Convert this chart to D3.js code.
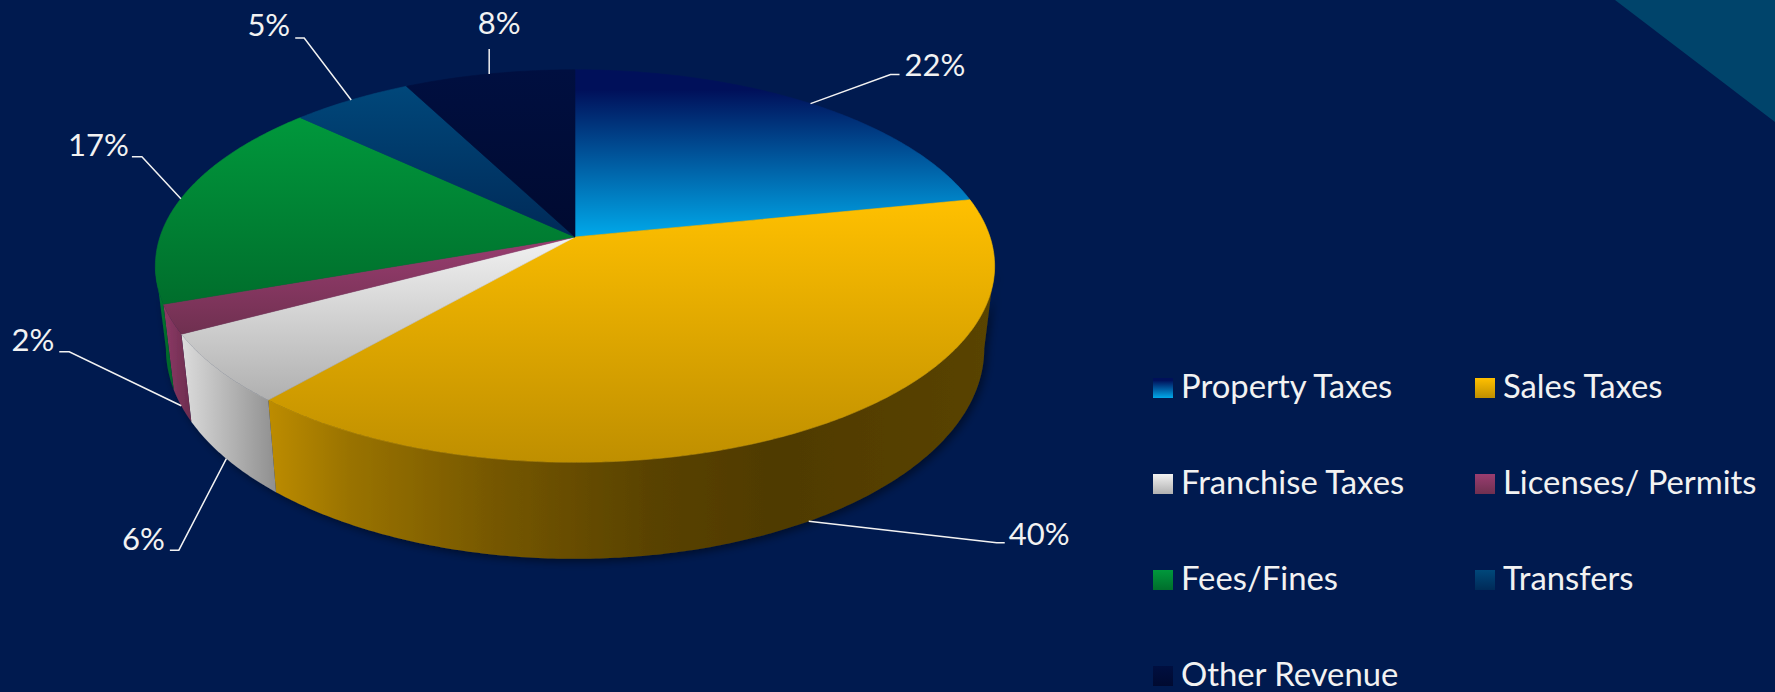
<!DOCTYPE html>
<html>
<head>
<meta charset="utf-8">
<script src="https://cdn.jsdelivr.net/npm/d3@7"></script>
<style>
  html, body { margin: 0; padding: 0; background: #001a4f; overflow: hidden; }
  svg { display: block; }
  text { font-family: Lato, "Open Sans", sans-serif; fill: #f2f2f2; }
</style>
</head>
<body>
<div id="chart"></div>
<script>
// ---------------------------------------------------------
// 1. DATA
// ---------------------------------------------------------
const categories = ["Property Taxes", "Sales Taxes", "Franchise Taxes", "Licenses/ Permits", "Fees/Fines", "Transfers", "Other Revenue"];
const shares = [21.8, 39.6, 5.8, 2.4, 17.4, 5.4, 7.6];
const shareLabels = ["22%", "40%", "6%", "2%", "17%", "5%", "8%"];

// ---------------------------------------------------------
// 2. CONFIGURATION
// ---------------------------------------------------------
const width = 1775;
const height = 692;

// gradient stops per slice, [color, offset]: top faces run top to bottom, walls left to right
const faceColors = [
    [["#00105a", 0.12], ["#00a9ea", 1]],
    [["#ffc000", 0], ["#bf8f00", 1]],
    [["#f2f2f2", 0], ["#b0b0b0", 1]],
    [["#9a3d70", 0], ["#6f3050", 1]],
    [["#00983c", 0], ["#006e2c", 1]],
    [["#00477a", 0], ["#002a58", 1]],
    [["#000f40", 0], ["#000a30", 1]]
];
const wallColors = [
    [["#00335f", 0], ["#002040", 1]],
    [["#bd8c00", 0], ["#9a7300", 0.11], ["#745600", 0.32], ["#5a4300", 0.52], ["#4f3a00", 0.7], ["#5a4400", 1]],
    [["#dcdcdc", 0], ["#8f8f8f", 1]],
    [["#8e3a66", 0], ["#6b2c4e", 1]],
    [["#007a30", 0], ["#006228", 1]],
    [["#002a50", 0], ["#001c3c", 1]],
    [["#000a30", 0], ["#000820", 1]]
];

// leader layout, relative to where each leader touches the pie
const leaders = [
    { dx: 80, dy: -29, tail: 9, anchor: "start", onWall: false, labelDx: 5, labelDy: 1 },
    { dx: 188, dy: 21.5, tail: 8, anchor: "start", onWall: true, labelDx: 4, labelDy: 2 },
    { dx: -47.5, dy: 91.5, tail: -9, anchor: "end", onWall: true, labelDx: -5, labelDy: 0 },
    { dx: -112, dy: -54, tail: -10, anchor: "end", onWall: true, labelDx: -5, labelDy: -1 },
    { dx: -39, dy: -42, tail: -10, anchor: "end", onWall: false, labelDx: -3, labelDy: -1 },
    { dx: -47, dy: -62, tail: -9, anchor: "end", onWall: false, labelDx: -5, labelDy: -2 },
    { dx: 0, dy: -25, tail: 0, anchor: "middle", onWall: false, labelDx: 10, labelDy: -15 }
];

const pieCx = 575, apexY = 237;
const perspective = -0.148;
const radiusX = 415, radiusY = 192;
const depth = 96.5;
const frontY = apexY + radiusY / (1 + perspective);
const bottomCx = 578, bottomScaleX = 0.975, bottomSquash = 0.07;

const svg = d3.select("#chart").append("svg")
    .attr("width", width)
    .attr("height", height);

const defs = svg.append("defs");

svg.append("rect").attr("width", width).attr("height", height).attr("fill", "#001a4f");

// corner triangle
svg.append("path")
    .attr("d", d3.line()([[1615, 0], [1775, 0], [1775, 122]]) + "Z")
    .attr("fill", "#00446b");

function addGradient(id, stops, horizontal) {
    const g = defs.append("linearGradient").attr("id", id)
        .attr("x1", 0).attr("y1", 0)
        .attr("x2", horizontal ? 1 : 0).attr("y2", horizontal ? 0 : 1);
    stops.forEach(s => g.append("stop").attr("offset", s[1]).attr("stop-color", s[0]));
}

faceColors.forEach((c, i) => addGradient("face" + i, c, false));
wallColors.forEach((c, i) => addGradient("wall" + i, c, true));

const shadow = defs.append("filter").attr("id", "wallShadow")
    .attr("x", "-5%").attr("y", "-5%").attr("width", "110%").attr("height", "115%");
shadow.append("feDropShadow").attr("dx", 3).attr("dy", 3).attr("stdDeviation", 4)
    .attr("flood-color", "#000").attr("flood-opacity", 0.45);

// ---------------------------------------------------------
// 3. PROJECTION
// ---------------------------------------------------------
// pie angle (0 = back, clockwise) to a point on the tilted rim
function rim(angle, r = 1) {
    const u = Math.sin(angle) * r, v = -Math.cos(angle) * r;
    const w = 1 + perspective * v;
    return [pieCx + radiusX * u / w, apexY + radiusY * v / w];
}

function rimBottom(angle) {
    const p = rim(angle);
    return [bottomCx + (p[0] - bottomCx) * bottomScaleX, p[1] + depth - (frontY - p[1]) * bottomSquash];
}

function arcSamples(a0, a1) {
    const n = Math.max(2, Math.ceil((a1 - a0) / 0.01));
    return d3.range(n + 1).map(i => a0 + (a1 - a0) * i / n);
}

// only this sweep of the wall faces the viewer
const wallFrom = Math.acos(perspective);
const wallTo = 2 * Math.PI - wallFrom;

const line = d3.line();

// ---------------------------------------------------------
// 4. PIE
// ---------------------------------------------------------
const pie = d3.pie().sort(null).value(d => d.value);
const slices = pie(categories.map((name, i) => ({ name, value: shares[i], index: i })));

const visibleWalls = slices.filter(d => d.startAngle < wallTo && d.endAngle > wallFrom);

svg.append("g").attr("filter", "url(#wallShadow)")
    .selectAll("path")
    .data(visibleWalls)
    .join("path")
    .attr("d", d => {
        const angles = arcSamples(Math.max(d.startAngle, wallFrom), Math.min(d.endAngle, wallTo));
        return line(angles.map(a => rim(a)).concat(angles.slice().reverse().map(rimBottom))) + "Z";
    })
    .attr("fill", d => `url(#wall${d.data.index})`);

// top faces, stroked in their own fill to close the seams between slices
svg.append("g").selectAll("path")
    .data(slices)
    .join("path")
    .attr("d", d => line([rim(0, 0)].concat(arcSamples(d.startAngle, d.endAngle).map(a => rim(a)))) + "Z")
    .attr("fill", d => `url(#face${d.data.index})`)
    .attr("stroke", d => `url(#face${d.data.index})`)
    .attr("stroke-width", 0.6);

// ---------------------------------------------------------
// 5. LEADERS AND LABELS
// ---------------------------------------------------------
const labelGroup = svg.append("g");
slices.forEach((d, i) => {
    const mid = (d.startAngle + d.endAngle) / 2;
    const cfg = leaders[i];
    const start = cfg.onWall ? rimBottom(mid) : rim(mid);
    const elbow = [start[0] + cfg.dx, start[1] + cfg.dy];
    const end = [elbow[0] + cfg.tail, elbow[1]];
    labelGroup.append("path")
        .attr("d", line([start, elbow, end]))
        .attr("fill", "none")
        .attr("stroke", "#f2f2f2")
        .attr("stroke-width", 1.5);
    labelGroup.append("text")
        .attr("x", end[0] + cfg.labelDx)
        .attr("y", end[1] + cfg.labelDy)
        .attr("text-anchor", cfg.anchor)
        .attr("font-size", 31)
        .text(shareLabels[i]);
});

// ---------------------------------------------------------
// 6. LEGEND
// ---------------------------------------------------------
const legendX = d3.scalePoint().domain([0, 1]).range([1153, 1475]);
const legendY = d3.scalePoint().domain([0, 1, 2, 3]).range([378, 666]);

const legendItems = svg.append("g").selectAll("g")
    .data(categories)
    .join("g")
    .attr("transform", (d, i) => `translate(${legendX(i % 2)},${legendY(Math.floor(i / 2))})`);

legendItems.append("rect")
    .attr("width", 20)
    .attr("height", 20)
    .attr("fill", (d, i) => `url(#face${i})`);

legendItems.append("text")
    .attr("x", 28)
    .attr("y", 20)
    .attr("font-size", 32.8)
    .text(d => d);
</script>
</body>
</html>
